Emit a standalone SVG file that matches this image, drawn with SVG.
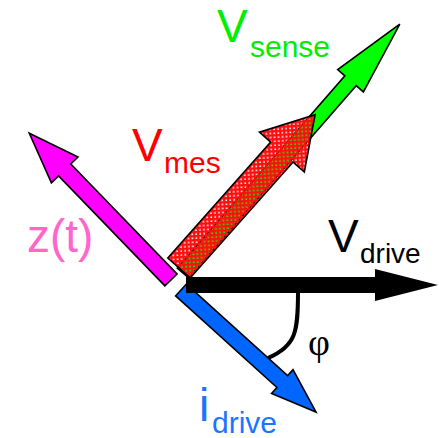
<svg xmlns="http://www.w3.org/2000/svg" width="439" height="438" viewBox="0 0 439 438">
  <defs>
    <pattern id="redmesh" width="4" height="4" patternUnits="userSpaceOnUse" patternTransform="rotate(45)">
      <path d="M0 0h4v2.4h-4z M0 2.4h2.4v1.6h-2.4z" fill="#ff1010"/>
    </pattern>
  </defs>
  <style>
    .arrow { stroke: #000; stroke-width: 1.6; stroke-linejoin: miter; }
    .big { font-family: "Liberation Sans", Arial, sans-serif; font-size: 46px; }
    .sub { font-family: "Liberation Sans", Arial, sans-serif; font-size: 30px; }
  </style>
  <rect width="439" height="438" fill="#fff"/>

  <g id="connectors">
    <path d="M298 292 C298 332, 296 346, 268 358" fill="none" stroke="#000" stroke-width="4"/>
  </g>

  <g id="v-sense">
    <polygon class="arrow" fill="#00ff00" transform="translate(183,273) rotate(-48.93)"
      points="0,-7.5 255,-7.5 255,-17 330,0 255,17 255,7.5 0,7.5"/>
    <text class="big" x="217" y="42" fill="#00ee00">V</text>
    <text class="sub" x="250" y="57" fill="#00ee00">sense</text>
  </g>

  <g id="v-mes">
    <polygon class="arrow" fill="url(#redmesh)" transform="translate(179,268) rotate(-48.4)"
      points="0,-15 155,-15 155,-30 205,0 155,30 155,15 0,15"/>
    <text class="big" x="132" y="161" fill="#ff0000">V</text>
    <text class="sub" x="164" y="173" fill="#ff0000">mes</text>
  </g>

  <g id="z-t">
    <polygon class="arrow" fill="#ff00ff" transform="translate(171,280) rotate(-134)"
      points="0,-8.5 153,-8.5 153,-18.5 204,0 153,18.5 153,8.5 0,8.5"/>
    <text class="big" x="27" y="252" fill="#ff66cc">z(t)</text>
  </g>

  <g id="i-drive">
    <polygon class="arrow" fill="#0066ff" transform="translate(181,290) rotate(42.1)"
      points="0,-8 136.5,-8 136.5,-16 182,0 136.5,16 136.5,8 0,8"/>
    <text class="big" x="199" y="421" fill="#1a75ff">i</text>
    <text class="sub" x="212" y="433" fill="#1a75ff">drive</text>
  </g>

  <g id="v-drive">
    <polygon fill="#000" points="186,277 375,277 375,269 438,285 375,301 375,293 186,293"/>
    <text class="big" x="328" y="252" fill="#000">V</text>
    <text class="sub" x="360" y="263" fill="#000" style="font-size:28px">drive</text>
  </g>

  <g id="phi">
    <text x="308" y="355" fill="#000" style="font-family:'Liberation Serif','Times New Roman',serif;font-size:38px">φ</text>
  </g>
</svg>
